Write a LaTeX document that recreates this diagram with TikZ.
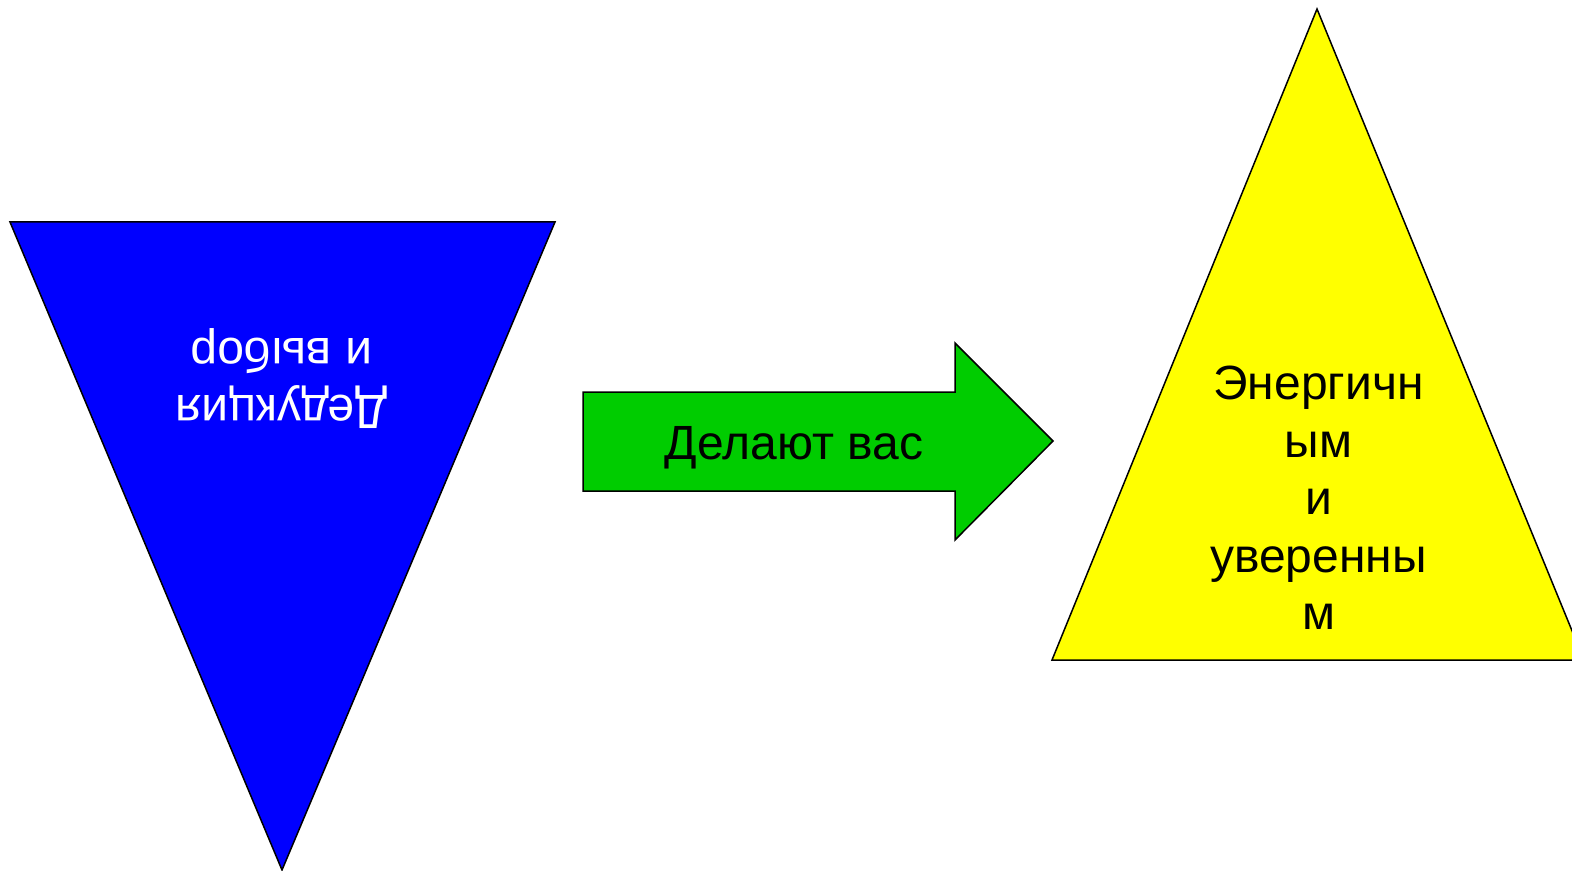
\documentclass[tikz,border=0pt]{standalone}
\usepackage{fontspec}
\setmainfont{Liberation Sans}
\usepackage{tikz}

\definecolor{deducblue}{RGB}{0,0,255}
\definecolor{arrowgreen}{RGB}{0,204,0}
\definecolor{energyellow}{RGB}{255,255,0}

\begin{document}
\begin{tikzpicture}[x=0.5pt,y=-0.5pt,
    bigtext/.style={font=\fontsize{24}{28.75}\selectfont, align=center, inner sep=0pt}]

% Picture frame
\useasboundingbox (0,0) rectangle (1572,871);
\clip (0,0) rectangle (1572,871);

% Inverted blue triangle
\draw[fill=deducblue, line width=0.75pt] (10,222) -- (555,222) -- (282,870) -- cycle;
\node[bigtext, text=white, rotate=180] (deduction) at (281.5,378.6) {Дедукция\\и выбор};

% Green arrow
\draw[fill=arrowgreen, line width=0.75pt] (583,392) -- (955,392) -- (955,343)
            -- (1053,441) -- (955,540) -- (955,491) -- (583,491) -- cycle;
\node[bigtext, anchor=base] (makes) at (794,459) {Делают вас};

% Yellow triangle
\draw[fill=energyellow, line width=0.75pt] (1317,9) -- (1584,660) -- (1052,660) -- cycle;
\node[bigtext] (energetic) at (1318.5,498) {Энергичн\\ым\\и\\уверенны\\м};

\end{tikzpicture}
\end{document}
